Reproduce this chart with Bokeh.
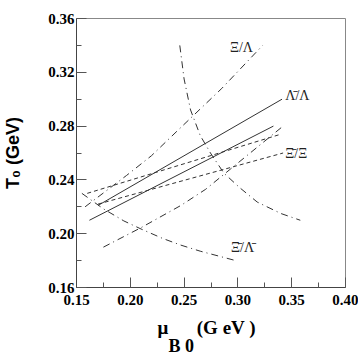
import math
from bokeh.plotting import figure
from bokeh.models import Range1d, FixedTicker, Label
from bokeh.embed import file_html
from bokeh.resources import INLINE

# ---- data ----
x_ticks = [0.15, 0.20, 0.25, 0.30, 0.35, 0.40]
x_tick_labels = ["0.15", "0.20", "0.25", "0.30", "0.35", "0.40"]
x_minor = [0.175, 0.225, 0.275, 0.325, 0.375]
y_ticks = [0.16, 0.20, 0.24, 0.28, 0.32, 0.36]
y_tick_labels = ["0.16", "0.20", "0.24", "0.28", "0.32", "0.36"]
y_minor = [0.18, 0.22, 0.26, 0.30, 0.34]

# Lambda-bar / Lambda (solid band)
lal_up_x = [0.170, 0.341]
lal_up_y = [0.221, 0.300]
lal_lo_x = [0.162, 0.333]
lal_lo_y = [0.210, 0.280]

# Xi-bar / Xi (dashed band)
xx_up_x = [0.160, 0.340]
xx_up_y = [0.230, 0.274]
xx_lo_x = [0.170, 0.342]
xx_lo_y = [0.222, 0.260]

# Xi / Lambda (dash-dot band)
xl_up_x = [0.158, 0.1965, 0.2197, 0.244, 0.285, 0.323]
xl_up_y = [0.220, 0.2433, 0.258, 0.2767, 0.308, 0.340]
xl_lo_x = [0.175, 0.210, 0.247, 0.270, 0.293, 0.342]
xl_lo_y = [0.190, 0.2045, 0.221, 0.233, 0.248, 0.280]

# Xi-bar / Lambda-bar (dash-dot band)
xlb_a_x = [0.155, 0.175, 0.194, 0.210, 0.230, 0.247, 0.265, 0.298]
xlb_a_y = [0.230, 0.2185, 0.2095, 0.2035, 0.1965, 0.1915, 0.187, 0.180]
xlb_b_x = [0.246, 0.250, 0.256, 0.265, 0.2745, 0.287, 0.302, 0.318, 0.340, 0.358]
xlb_b_y = [0.340, 0.315, 0.292, 0.273, 0.260, 0.245, 0.234, 0.2235, 0.215, 0.210]

curve_labels = ["\u039e/\u039b", "\u039b\u0304/\u039b", "\u039e\u0304/\u039e", "\u039e\u0304/\u039b\u0304"]
label_x = [0.3033, 0.344, 0.344, 0.3043]
label_y = [0.3384, 0.3025, 0.2595, 0.1895]

W, H = 358, 354
p = figure(width=W, height=H,
           x_range=Range1d(0.15, 0.40), y_range=Range1d(0.16, 0.36),
           output_backend="svg", toolbar_location=None,
           min_border_left=76, min_border_right=W - 345,
           min_border_top=18, min_border_bottom=H - 287)
p.grid.visible = False
p.background_fill_color = "white"
p.border_fill_color = "white"
p.outline_line_color = "#888888"
p.outline_line_width = 1

for ax, ticks, minor, labels in [(p.xaxis[0], x_ticks, x_minor, x_tick_labels),
                                 (p.yaxis[0], y_ticks, y_minor, y_tick_labels)]:
    ax.ticker = FixedTicker(ticks=ticks, minor_ticks=minor)
    ax.major_label_overrides = {t: l for t, l in zip(ticks, labels)}
    ax.major_tick_in = 10
    ax.major_tick_out = 0
    ax.minor_tick_in = 5
    ax.minor_tick_out = 0
    ax.major_tick_line_color = "#555555"
    ax.minor_tick_line_color = "#555555"
    ax.axis_line_color = "#444444"
    ax.major_label_text_font = "Liberation Serif"
    ax.major_label_text_font_style = "bold"
    ax.major_label_text_font_size = "15px"
    ax.major_label_text_color = "black"
p.xaxis.major_label_standoff = 7
p.yaxis.major_label_standoff = 2

# y-axis title
p.yaxis.axis_label = "T\u2080 (GeV)"
p.yaxis.axis_label_text_font = "Liberation Sans"
p.yaxis.axis_label_text_font_style = "bold"
p.yaxis.axis_label_text_font_size = "18px"
p.yaxis.axis_label_text_color = "black"
p.yaxis.axis_label_standoff = 22

lc = "#333333"
p.line(lal_up_x, lal_up_y, line_color=lc, line_width=1)
p.line(lal_lo_x, lal_lo_y, line_color=lc, line_width=1)
p.line(xx_up_x, xx_up_y, line_color=lc, line_width=1, line_dash="4 3")
p.line(xx_lo_x, xx_lo_y, line_color=lc, line_width=1, line_dash="4 3")
p.line(xl_up_x, xl_up_y, line_color=lc, line_width=1, line_dash="7 4 1 4")
p.line(xl_lo_x, xl_lo_y, line_color=lc, line_width=1, line_dash="7 4 1 4")
p.line(xlb_a_x, xlb_a_y, line_color=lc, line_width=1, line_dash="7 4 1 4")
p.line(xlb_b_x, xlb_b_y, line_color=lc, line_width=1, line_dash="7 4 1 4")

aligns = ["center", "left", "left", "center"]
for t, x, y, a in zip(curve_labels, label_x, label_y, aligns):
    p.add_layout(Label(x=x, y=y, text=t, text_font="Liberation Serif",
                       text_font_size="14px", text_align=a,
                       text_baseline="middle", text_color="#222222"))

# x-axis title: mu_B0 (GeV), as two labels in the bottom panel (canvas pixels)
for text, x, y, size in [("\u03bc\u2003\u2002(G eV )", 157, 327, "19px"),
                         ("B 0", 168, 345, "18px")]:
    p.add_layout(Label(x=x, y=y, x_units="canvas", y_units="canvas", text=text,
                       text_font="Liberation Serif", text_font_style="bold",
                       text_font_size=size, text_align="left",
                       text_baseline="alphabetic", text_color="black"), "below")

open("out.html", "w").write(file_html(p, INLINE))
